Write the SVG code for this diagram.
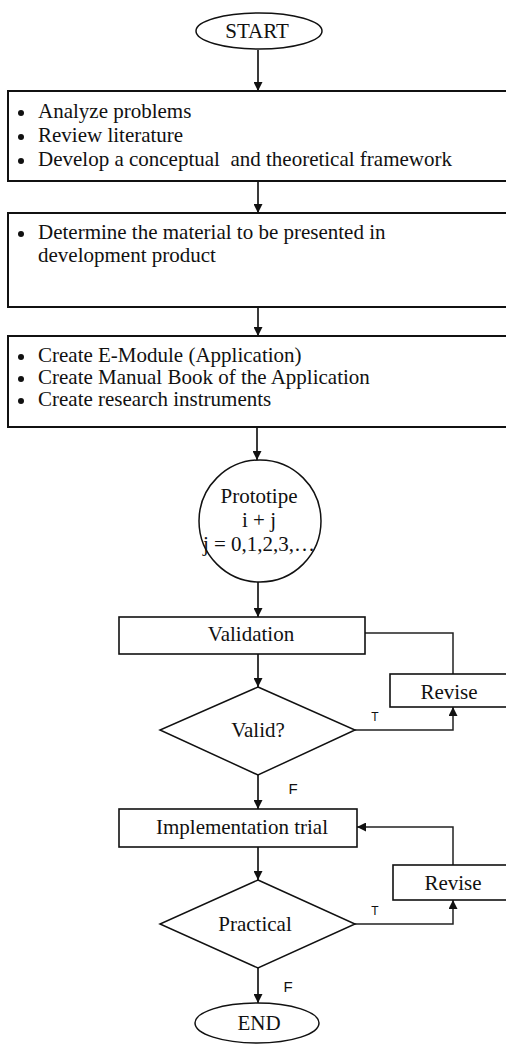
<svg xmlns="http://www.w3.org/2000/svg" width="506" height="1044" viewBox="0 0 506 1044">
<style>
.t{font-family:"Liberation Serif","Times New Roman",serif;font-size:21px;fill:#111}
.c{text-anchor:middle}
.s{font-family:"Liberation Sans",Arial,sans-serif;fill:#111}
.box{fill:#fff;stroke:#111;stroke-width:2}
.sm{fill:#fff;stroke:#111;stroke-width:1.6}
.ln{fill:none;stroke:#3a3a3a;stroke-width:2}
.lp{fill:none;stroke:#222;stroke-width:1.5}
</style>
<defs>
<marker id="ah" markerUnits="userSpaceOnUse" markerWidth="9" markerHeight="9" refX="9" refY="4.5" orient="auto">
<path d="M0,0 L9,4.5 L0,9 z" fill="#111"/>
</marker>
</defs>
<g id="connectors">
<path class="ln" d="M258 50 V91" marker-end="url(#ah)"/>
<path class="ln" d="M258 181 V213" marker-end="url(#ah)"/>
<path class="ln" d="M258 307 V336" marker-end="url(#ah)"/>
<path class="ln" d="M257 427 V460" marker-end="url(#ah)"/>
<path class="ln" d="M258 582 V617" marker-end="url(#ah)"/>
<path class="ln" d="M258 654 V687" marker-end="url(#ah)"/>
<path class="ln" d="M258 775 V809" marker-end="url(#ah)"/>
<path class="ln" d="M258 847 V880" marker-end="url(#ah)"/>
<path class="ln" d="M258 968 V1003" marker-end="url(#ah)"/>
<path class="lp" d="M365 633 H453 V674"/>
<path class="lp" d="M355 730 H453 V707" marker-end="url(#ah)"/>
<path class="lp" d="M453 865 V827 H357" marker-end="url(#ah)"/>
<path class="lp" d="M355 924 H453 V900" marker-end="url(#ah)"/>
<text class="s" x="375" y="721" font-size="12" text-anchor="middle">T</text>
<text class="s" x="293" y="794" font-size="15" text-anchor="middle">F</text>
<text class="s" x="375" y="915" font-size="12" text-anchor="middle">T</text>
<text class="s" x="288" y="992" font-size="15" text-anchor="middle">F</text>
</g>
<g id="start">
<ellipse cx="259" cy="31" rx="63" ry="18" fill="#fff" stroke="#111" stroke-width="1.5"/>
<text class="t c" x="257" y="38" font-size="20">START</text>
</g>
<g id="step1">
<rect class="box" x="8" y="91" width="520" height="90"/>
<circle cx="21" cy="113" r="3" fill="#111"/>
<circle cx="21" cy="137" r="3" fill="#111"/>
<circle cx="21" cy="161" r="3" fill="#111"/>
<text class="t" x="38" y="118">Analyze problems</text>
<text class="t" x="38" y="142">Review literature</text>
<text class="t" x="38" y="166" xml:space="preserve">Develop a conceptual  and theoretical framework</text>
</g>
<g id="step2">
<rect class="box" x="8" y="213" width="520" height="94"/>
<circle cx="21" cy="234" r="3" fill="#111"/>
<text class="t" x="38" y="239">Determine the material to be presented in</text>
<text class="t" x="38" y="262">development product</text>
</g>
<g id="step3">
<rect class="box" x="8" y="336" width="520" height="91"/>
<circle cx="21" cy="357" r="3" fill="#111"/>
<circle cx="21" cy="379" r="3" fill="#111"/>
<circle cx="21" cy="401" r="3" fill="#111"/>
<text class="t" x="38" y="362">Create E-Module (Application)</text>
<text class="t" x="38" y="384">Create Manual Book of the Application</text>
<text class="t" x="38" y="406">Create research instruments</text>
</g>
<g id="prototipe">
<circle cx="260" cy="521" r="61" fill="#fff" stroke="#111" stroke-width="1.5"/>
<text class="t c" x="259" y="503" font-size="20">Prototipe</text>
<text class="t c" x="259" y="527" font-size="20">i + j</text>
<text class="t c" x="259" y="551" font-size="20">j = 0,1,2,3,…</text>
</g>
<g id="validation">
<rect class="sm" x="119" y="617" width="246" height="37"/>
<text class="t c" x="251" y="641">Validation</text>
</g>
<g id="valid">
<polygon points="258,687 355,730 258,775 160,730" fill="#fff" stroke="#111" stroke-width="1.5"/>
<text class="t c" x="258" y="737" font-size="20">Valid?</text>
</g>
<g id="revise1">
<rect class="sm" x="390" y="674" width="130" height="33"/>
<text class="t c" x="449" y="699">Revise</text>
</g>
<g id="implementation">
<rect class="sm" x="119" y="809" width="238" height="38"/>
<text class="t c" x="242" y="834">Implementation trial</text>
</g>
<g id="revise2">
<rect class="sm" x="393" y="865" width="130" height="35"/>
<text class="t c" x="453" y="890">Revise</text>
</g>
<g id="practical">
<polygon points="258,880 355,924 258,968 160,924" fill="#fff" stroke="#111" stroke-width="1.5"/>
<text class="t c" x="255" y="931">Practical</text>
</g>
<g id="end">
<ellipse cx="257" cy="1023" rx="62" ry="20" fill="#fff" stroke="#111" stroke-width="1.5"/>
<text class="t c" x="259" y="1030" font-size="20">END</text>
</g>
</svg>
